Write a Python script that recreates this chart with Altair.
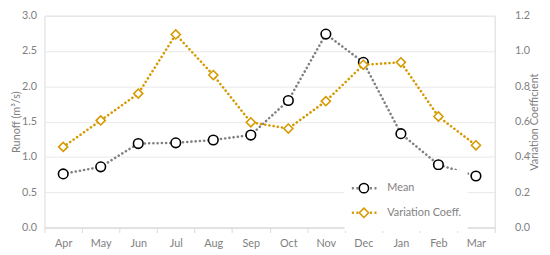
import altair as alt
import pandas as pd

months = ["Apr", "May", "Jun", "Jul", "Aug", "Sep", "Oct", "Nov", "Dec", "Jan", "Feb", "Mar"]
mean_runoff = [0.76, 0.86, 1.19, 1.20, 1.24, 1.31, 1.80, 2.74, 2.34, 1.33, 0.89, 0.73]
variation_coeff = [0.457, 0.607, 0.759, 1.094, 0.864, 0.596, 0.561, 0.716, 0.922, 0.936, 0.629, 0.466]
series_names = ["Mean", "Variation Coeff."]
marker_keys = ["mean_marker", "cv_marker"]

GRAY = "#808080"
ORANGE = "#D69A00"
TXT = "#7f7f7f"
FONT = "Lato"
FS = 11

df_mean = pd.DataFrame({"month": months, "value": mean_runoff,
                        "series": series_names[0], "marker": marker_keys[0]})
df_cv = pd.DataFrame({"month": months, "value": variation_coeff,
                      "series": series_names[1], "marker": marker_keys[1]})

PLOT_H = 215

x_enc = alt.X(
    "month:N", sort=months, bandPosition=0.5,
    scale=alt.Scale(type="band", paddingInner=0, paddingOuter=0),
    axis=alt.Axis(title=None, tickBand="extent", ticks=True, tickSize=5, tickColor="#d9d9d9",
                  domainColor="#d9d9d9", labelAngle=0, labelPadding=5, grid=False,
                  labelColor=TXT, labelFont=FONT, labelFontSize=FS),
)

line_legend = alt.Legend(
    orient="none", legendX=304.5, legendY=156.5, title=None,
    symbolType="stroke", symbolSize=625, symbolStrokeWidth=2.5, symbolDash=[2, 2.6],
    clipHeight=25, rowPadding=0, labelOffset=9.5, padding=6, fillColor="white",
    labelColor=TXT, labelFont=FONT, labelFontSize=FS,
)
point_legend = alt.Legend(
    orient="none", legendX=312.25, legendY=156.5, title=None,
    symbolSize=90, symbolStrokeWidth=1.6, symbolFillColor="white",
    clipHeight=25, rowPadding=0, labelOffset=0, padding=6, labelExpr="''",
    labelFont=FONT, labelFontSize=FS,
)

color_enc = alt.Color("series:N", scale=alt.Scale(domain=series_names, range=[GRAY, ORANGE]), legend=line_legend)
shape_enc = alt.Shape("marker:N", scale=alt.Scale(domain=marker_keys, range=["circle", "diamond"]), legend=point_legend)
stroke_enc = alt.Stroke("marker:N", scale=alt.Scale(domain=marker_keys, range=["#000000", ORANGE]), legend=point_legend)

y_left = alt.Y(
    "value:Q", scale=alt.Scale(domain=[0, 3]),
    axis=alt.Axis(title="Runoff (m³/s)", values=[0, 0.5, 1, 1.5, 2, 2.5, 3], format=".1f",
                  orient="left", grid=True, gridColor="#e9e9e9", domain=False, ticks=False,
                  labelPadding=8, titleX=-23, titleY=PLOT_H / 2, labelColor=TXT, titleColor=TXT,
                  labelFont=FONT, titleFont=FONT, labelFontSize=FS, titleFontSize=FS,
                  titleFontWeight="normal"),
)
y_right = alt.Y(
    "value:Q", scale=alt.Scale(domain=[0, 1.2]),
    axis=alt.Axis(title="Variation Coefficient", values=[0, 0.2, 0.4, 0.6, 0.8, 1.0, 1.2], format=".1f",
                  orient="right", grid=False, domain=False, ticks=False,
                  labelPadding=20, titleAngle=270, titleBaseline="middle", titleAlign="center",
                  titleX=40, titleY=PLOT_H / 2, labelColor=TXT, titleColor=TXT,
                  labelFont=FONT, titleFont=FONT, labelFontSize=FS, titleFontSize=FS,
                  titleFontWeight="normal"),
)

line_style = dict(strokeWidth=2.6, strokeDash=[0.1, 4.2], strokeCap="round")

mean_line = alt.Chart(df_mean).mark_line(**line_style).encode(x=x_enc, y=y_left, color=color_enc)
mean_pts = alt.Chart(df_mean).mark_point(size=95, strokeWidth=1.6, fill="white", filled=False, opacity=1).encode(
    x=x_enc, y=y_left, shape=shape_enc, stroke=stroke_enc)
cv_line = alt.Chart(df_cv).mark_line(**line_style).encode(x=x_enc, y=y_right, color=color_enc)
cv_pts = alt.Chart(df_cv).mark_point(size=85, strokeWidth=1.6, fill="white", filled=False, opacity=1).encode(
    x=x_enc, y=y_right, shape=shape_enc, stroke=stroke_enc)

chart = alt.layer(
    alt.layer(mean_line, mean_pts),
    alt.layer(cv_line, cv_pts),
).resolve_scale(y="independent").properties(
    width=457, height=PLOT_H,
    autosize=alt.AutoSizeParams(type="none"),
    padding={"left": 37, "top": 6, "right": 48, "bottom": 26},
).configure_view(stroke="#d9d9d9", strokeWidth=1)

chart.save("out.html", embed_options={"renderer": "svg", "actions": False})
